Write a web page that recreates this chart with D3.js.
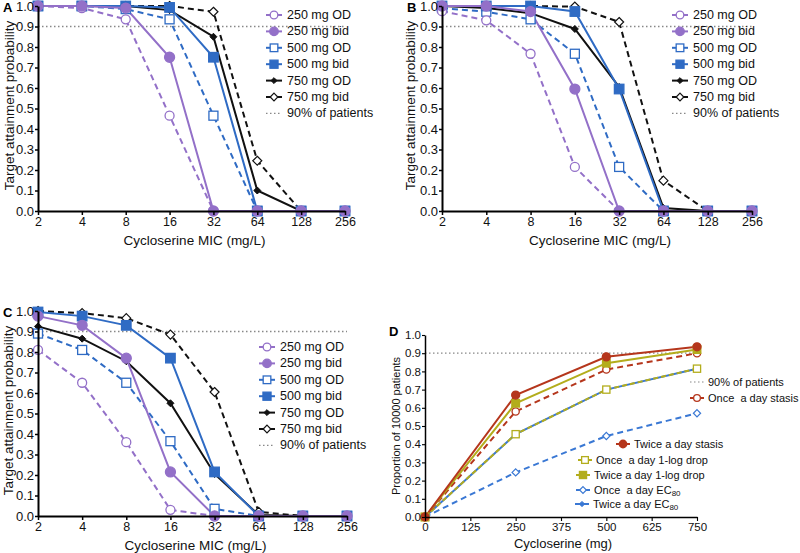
<!DOCTYPE html>
<html><head><meta charset="utf-8">
<script src="https://cdn.jsdelivr.net/npm/d3@7"></script>
<style>
body{margin:0;background:#fff}
svg{font-family:"Liberation Sans",Arial,sans-serif}
text{white-space:pre}
</style>
</head><body><svg id="c" width="800" height="553"></svg>
<script>
// ---------- DATA ----------
const mic = [2, 4, 8, 16, 32, 64, 128, 256];
const micTickLabels = ["2", "4", "8", "16", "32", "64", "128", "256"];
const probTicks = [0, 0.1, 0.2, 0.3, 0.4, 0.5, 0.6, 0.7, 0.8, 0.9, 1.0];
const seriesNames = ["250 mg OD", "250 mg bid", "500 mg OD", "500 mg bid", "750 mg OD", "750 mg bid"];
const refLabel = "90% of patients";
const refValue = 0.9;

// Panel A
const a250OD  = [1.0, 0.99, 0.935, 0.465, 0, 0, 0, 0];
const a250bid = [1.0, 1.0, 0.99, 0.75, 0, 0, 0, 0];
const a500OD  = [1.0, 1.0, 0.985, 0.935, 0.465, 0, 0, 0];
const a500bid = [1.0, 1.0, 1.0, 0.993, 0.75, 0, 0, 0];
const a750OD  = [1.0, 1.0, 1.0, 0.98, 0.85, 0.10, 0, 0];
const a750bid = [1.0, 1.0, 1.0, 1.0, 0.972, 0.245, 0, 0];
// Panel B
const b250OD  = [0.975, 0.93, 0.767, 0.215, 0, 0, 0, 0];
const b250bid = [1.0, 1.0, 0.973, 0.595, 0, 0, 0, 0];
const b500OD  = [0.99, 0.972, 0.935, 0.767, 0.215, 0, 0, 0];
const b500bid = [1.0, 1.0, 1.0, 0.973, 0.595, 0, 0, 0];
const b750OD  = [1.0, 0.99, 0.965, 0.888, 0.605, 0.015, 0, 0];
const b750bid = [1.0, 1.0, 1.0, 0.997, 0.922, 0.148, 0, 0];
// Panel C
const c250OD  = [0.81, 0.65, 0.36, 0.03, 0, 0, 0, 0];
const c250bid = [0.975, 0.93, 0.77, 0.215, 0, 0, 0, 0];
const c500OD  = [0.89, 0.81, 0.65, 0.365, 0.035, 0, 0, 0];
const c500bid = [0.995, 0.975, 0.93, 0.77, 0.215, 0, 0, 0];
const c750OD  = [0.925, 0.865, 0.755, 0.55, 0.205, 0.005, 0, 0];
const c750bid = [1.0, 0.99, 0.965, 0.885, 0.605, 0.02, 0, 0];

// Panel D
const dose = [0, 250, 500, 750];
const doseTicks = [0, 125, 250, 375, 500, 625, 750];
const dTwiceStasis = [0, 0.67, 0.88, 0.935];
const dOnceStasis  = [0, 0.58, 0.81, 0.90];
const dTwice1log   = [0, 0.625, 0.845, 0.92];
const dOnce1log    = [0, 0.455, 0.70, 0.815];
const dOnceEC80    = [0, 0.245, 0.445, 0.57];
const dTwiceEC80   = [0, 0.455, 0.70, 0.815];
const dNames = ["Twice a day stasis", "Once  a day stasis", "Twice a day 1-log drop", "Once  a day 1-log drop", "Once  a day EC", "Twice a day EC"];

// ---------- STYLES ----------
const PURPLE = "#9370c8", BLUE = "#2f6bc4", BLACK = "#111";
const RED = "#b5361c", OLIVE = "#b3ad1c", DBLUE = "#3a78d4";
const styleABC = [
  {c: PURPLE, dash: "6,4", m: "circle", fill: false},
  {c: PURPLE, dash: null,  m: "circle", fill: true},
  {c: BLUE,   dash: "6,4", m: "square", fill: false},
  {c: BLUE,   dash: null,  m: "square", fill: true},
  {c: BLACK,  dash: null,  m: "sdiamond", fill: true},
  {c: BLACK,  dash: "6,4", m: "diamond", fill: false}
];
const drawOrder = [5, 4, 2, 3, 0, 1];

const svg = d3.select("#c");

function marker(g, type, x, y, color, filled, k) {
  k = k || 1;
  const f = filled ? color : "#fff";
  if (type === "circle") {
    g.append("circle").attr("cx", x).attr("cy", y).attr("r", (filled ? 5 : 4.5) * k)
      .attr("fill", f).attr("stroke", color).attr("stroke-width", 1.3);
  } else if (type === "square") {
    const s = (filled ? 9.5 : 9) * k;
    g.append("rect").attr("x", x - s/2).attr("y", y - s/2).attr("width", s).attr("height", s)
      .attr("fill", f).attr("stroke", color).attr("stroke-width", 1.3);
  } else if (type === "diamond") {
    const h = 4.5 * k;
    g.append("path").attr("d", `M${x},${y-h}L${x+h},${y}L${x},${y+h}L${x-h},${y}Z`)
      .attr("fill", f).attr("stroke", color).attr("stroke-width", 1.2);
  } else if (type === "sdiamond") {
    const h = 3.5 * k;
    g.append("path").attr("d", `M${x},${y-h}L${x+h},${y}L${x},${y+h}L${x-h},${y}Z`)
      .attr("fill", f).attr("stroke", color).attr("stroke-width", 1);
  }
}

function axisStyle(g, w, fs) {
  g.selectAll(".domain").attr("stroke", "#000").attr("stroke-width", w);
  g.selectAll(".tick line").attr("stroke", "#000").attr("stroke-width", w * 0.75);
  g.selectAll(".tick text").attr("font-size", fs).attr("fill", "#111")
    .attr("font-family", "Liberation Sans, Arial, sans-serif");
}

function panelMIC(letter, data, xr, yr, legX, legY, ytitleX) {
  const x = d3.scaleLog().base(2).domain([2, 256]).range(xr);
  const y = d3.scaleLinear().domain([0, 1]).range(yr);
  const g = svg.append("g");

  g.append("line").attr("x1", x(2)).attr("x2", x(256)).attr("y1", y(refValue)).attr("y2", y(refValue))
    .attr("stroke", "#888").attr("stroke-width", 1.3).attr("stroke-dasharray", "1.5,2.5");

  const line = d3.line().x((d, i) => x(mic[i])).y(d => y(d));
  drawOrder.forEach(k => {
    const s = styleABC[k];
    g.append("path").attr("d", line(data[k])).attr("fill", "none").attr("stroke", s.c)
      .attr("stroke-width", 2).attr("stroke-dasharray", s.dash);
  });
  drawOrder.forEach(k => {
    const s = styleABC[k];
    data[k].forEach((v, i) => marker(g, s.m, x(mic[i]), y(v), s.c, s.fill));
  });

  const ax = g.append("g").attr("transform", `translate(0,${yr[0]})`)
    .call(d3.axisBottom(x).tickValues(mic).tickFormat((d, i) => micTickLabels[i]).tickSize(4).tickSizeOuter(0).tickPadding(2));
  axisStyle(ax, 2, "12.5px");
  const ay = g.append("g").attr("transform", `translate(${xr[0]},0)`)
    .call(d3.axisLeft(y).tickValues(probTicks).tickFormat(d3.format(".1f")).tickSize(3).tickSizeOuter(0).tickPadding(1));
  axisStyle(ay, 2, "12.5px");
  ay.selectAll(".tick text").attr("font-size", "13px");

  g.append("text").attr("x", (xr[0] + xr[1]) / 2 + 3).attr("y", yr[0] + 34).attr("text-anchor", "middle")
    .attr("font-size", "13.5px").attr("fill", "#111").text("Cycloserine MIC (mg/L)");
  g.append("text").attr("transform", `translate(${ytitleX},${(yr[0] + yr[1]) / 2 - 3}) rotate(-90)`)
    .attr("text-anchor", "middle").attr("dominant-baseline", "central")
    .attr("font-size", "13.5px").attr("fill", "#111").text("Target attainment probability");
  g.append("text").attr("x", xr[0] - 35).attr("y", yr[1] + 6).attr("font-weight", "bold")
    .attr("font-size", "13px").attr("fill", "#000").text(letter);

  const lg = g.append("g");
  seriesNames.forEach((n, i) => {
    const s = styleABC[i];
    const yy = legY + i * 16.4;
    lg.append("line").attr("x1", legX - 8).attr("x2", legX + 8).attr("y1", yy).attr("y2", yy)
      .attr("stroke", s.c).attr("stroke-width", 2);
    marker(lg, s.m, legX, yy, s.c, s.fill, 0.85);
    lg.append("text").attr("x", legX + 13).attr("y", yy).attr("dominant-baseline", "central")
      .attr("font-size", "12.5px").attr("fill", "#111").text(n);
  });
  const yy = legY + 6 * 16.4;
  lg.append("line").attr("x1", legX - 8).attr("x2", legX + 8).attr("y1", yy).attr("y2", yy)
    .attr("stroke", "#888").attr("stroke-width", 1.3).attr("stroke-dasharray", "1.5,2.5");
  lg.append("text").attr("x", legX + 13).attr("y", yy).attr("dominant-baseline", "central")
    .attr("font-size", "12.5px").attr("fill", "#111").text(refLabel);
}

panelMIC("A", [a250OD, a250bid, a500OD, a500bid, a750OD, a750bid], [38, 345], [211, 6], 274, 15, 9);
panelMIC("B", [b250OD, b250bid, b500OD, b500bid, b750OD, b750bid], [442, 752], [211, 6], 680, 15, 410);
panelMIC("C", [c250OD, c250bid, c500OD, c500bid, c750OD, c750bid], [38, 347], [516, 311], 267, 347, 8);

// ---------- PANEL D ----------
(function () {
  const x = d3.scaleLinear().domain([0, 750]).range([425, 697]);
  const y = d3.scaleLinear().domain([0, 1]).range([517, 335]);
  const g = svg.append("g");
  g.append("line").attr("x1", x(0)).attr("x2", x(750)).attr("y1", y(refValue)).attr("y2", y(refValue))
    .attr("stroke", "#888").attr("stroke-width", 1.2).attr("stroke-dasharray", "1.5,2.5");

  const MK = 0.8;
  const series = [
    {v: dOnceEC80,    c: DBLUE, dash: "6,4", m: "diamond",  fill: false},
    {v: dTwiceEC80,   c: DBLUE, dash: null,  m: "sdiamond", fill: true},
    {v: dOnce1log,    c: OLIVE, dash: "5,3", m: "square",   fill: false},
    {v: dOnceStasis,  c: RED,   dash: "6,4", m: "circle",   fill: false},
    {v: dTwice1log,   c: OLIVE, dash: null,  m: "square",   fill: true},
    {v: dTwiceStasis, c: RED,   dash: null,  m: "circle",   fill: true}
  ];
  const line = d3.line().x((d, i) => x(dose[i])).y(d => y(d));
  series.forEach(s => {
    g.append("path").attr("d", line(s.v)).attr("fill", "none").attr("stroke", s.c)
      .attr("stroke-width", 2).attr("stroke-dasharray", s.dash);
  });
  series.forEach(s => {
    s.v.forEach((v, i) => marker(g, s.m, x(dose[i]), y(v), s.c, s.fill, MK));
  });

  const ax = g.append("g").attr("transform", `translate(0,517)`)
    .call(d3.axisBottom(x).tickValues(doseTicks).tickFormat(d3.format("d")).tickSize(4).tickSizeOuter(0).tickPadding(2));
  axisStyle(ax, 1.5, "11.5px");
  const ay = g.append("g").attr("transform", `translate(425,0)`)
    .call(d3.axisLeft(y).tickValues(probTicks).tickFormat(d3.format(".1f")).tickSize(3).tickSizeOuter(0).tickPadding(1));
  axisStyle(ay, 1.5, "11.5px");

  g.append("text").attr("x", 563).attr("y", 548).attr("text-anchor", "middle")
    .attr("font-size", "13px").attr("fill", "#111").text("Cycloserine (mg)");
  g.append("text").attr("transform", `translate(396,426) rotate(-90)`)
    .attr("text-anchor", "middle").attr("dominant-baseline", "central")
    .attr("font-size", "11px").attr("fill", "#111").text("Proportion of 10000 patients");
  g.append("text").attr("x", 389).attr("y", 336).attr("font-weight", "bold")
    .attr("font-size", "13px").attr("fill", "#000").text("D");

  function legItem(mx, yy, s, label, sub) {
    g.append("line").attr("x1", mx - 7).attr("x2", mx + 7).attr("y1", yy).attr("y2", yy)
      .attr("stroke", s.c).attr("stroke-width", 2);
    marker(g, s.m, mx, yy, s.c, s.fill, 0.75);
    const t = g.append("text").attr("x", mx + 11).attr("y", yy).attr("dominant-baseline", "central")
      .attr("font-size", "11px").attr("fill", "#111").text(label);
    if (sub) t.append("tspan").attr("font-size", "8px").attr("dy", 3).text(sub);
  }
  g.append("line").attr("x1", 690).attr("x2", 704).attr("y1", 382).attr("y2", 382)
    .attr("stroke", "#888").attr("stroke-width", 1.2).attr("stroke-dasharray", "1.5,2.5");
  g.append("text").attr("x", 708).attr("y", 382).attr("dominant-baseline", "central")
    .attr("font-size", "11px").attr("fill", "#111").text(refLabel);
  legItem(697, 398, series[3], dNames[1]);
  legItem(623, 444, series[5], dNames[0]);
  legItem(585, 460, series[2], dNames[3]);
  legItem(583, 475, series[4], dNames[2]);
  legItem(583, 490, series[0], dNames[4], "80");
  legItem(582, 504, series[1], dNames[5], "80");
})();
</script>
</body></html>
